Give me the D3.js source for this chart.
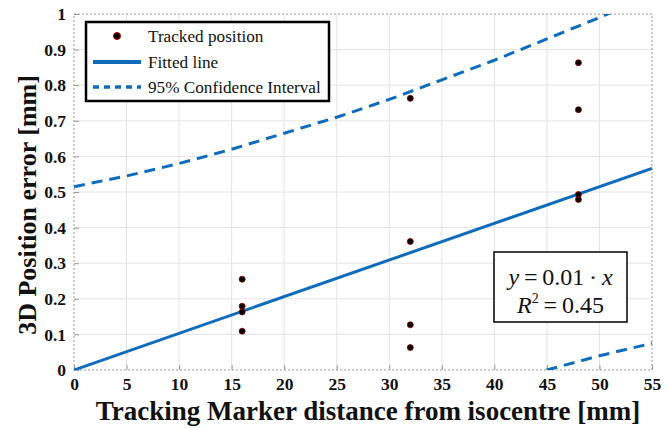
<!DOCTYPE html>
<html>
<head>
<meta charset="utf-8">
<script src="https://d3js.org/d3.v7.min.js"></script>
<style>
  html, body { margin: 0; padding: 0; background: #fff; }
  svg { display: block; }
</style>
</head>
<body>
<svg id="chart" width="669" height="428"></svg>
<script>
// Tracked marker positions: distance from isocentre (mm) and 3D error (mm)
const trackedX = [16, 16, 16, 16, 32, 32, 32, 32, 48, 48, 48, 48];
const trackedY = [0.255, 0.179, 0.163, 0.109, 0.763, 0.361, 0.127, 0.063, 0.863, 0.731, 0.493, 0.479];

// Linear fit through the origin
const fitSlope = 0.0103;
const fitR2 = 0.45;
const fitX = [0, 55];

// 95% confidence interval bounds
const ciUpperX = [0, 5, 10, 15, 20, 25, 30, 35, 40, 45, 50, 55];
const ciUpperY = [0.515, 0.545, 0.58, 0.62, 0.665, 0.71, 0.76, 0.815, 0.87, 0.93, 0.99, 1.055];
const ciLowerX = [40, 45, 50, 55];
const ciLowerY = [-0.04, 0.0, 0.04, 0.075];

const xTicks = [0, 5, 10, 15, 20, 25, 30, 35, 40, 45, 50, 55];
const yTicks = [0, 0.1, 0.2, 0.3, 0.4, 0.5, 0.6, 0.7, 0.8, 0.9, 1];

const blue = "#0f6cbd";
const serif = "'Liberation Serif', 'Times New Roman', serif";

const svg = d3.select("#chart");
const m = { left: 74, right: 17, top: 14, bottom: 58 };
const W = 669, H = 428;
const iw = W - m.left - m.right, ih = H - m.top - m.bottom;

const x = d3.scaleLinear().domain([0, 55]).range([0, iw]);
const y = d3.scaleLinear().domain([0, 1]).range([ih, 0]);

const g = svg.append("g").attr("transform", `translate(${m.left},${m.top})`);

// grid
g.append("g").selectAll("line").data(xTicks.slice(1, -1)).join("line")
  .attr("x1", d => x(d)).attr("x2", d => x(d)).attr("y1", 0).attr("y2", ih)
  .attr("stroke", "#e4e4e4").attr("stroke-width", 1);
g.append("g").selectAll("line").data(yTicks.slice(1, -1)).join("line")
  .attr("y1", d => y(d)).attr("y2", d => y(d)).attr("x1", 0).attr("x2", iw)
  .attr("stroke", "#e4e4e4").attr("stroke-width", 1);

// axes
const xAxis = d3.axisBottom(x).tickValues(xTicks).tickFormat(d3.format("d")).tickSizeInner(-5).tickSizeOuter(0).tickPadding(8);
const yAxis = d3.axisLeft(y).tickValues(yTicks).tickFormat(d => d === 0 || d === 1 ? String(d) : d3.format(".1f")(d)).tickSizeInner(-5).tickSizeOuter(0).tickPadding(8);

const gx = g.append("g").attr("transform", `translate(0,${ih})`).call(xAxis);
const gy = g.append("g").call(yAxis);
[gx, gy].forEach(a => {
  a.select(".domain").remove();
  a.selectAll(".tick line").attr("stroke", "#999").attr("stroke-width", 1);
  a.selectAll(".tick text").attr("fill", "#111").style("font-family", serif)
    .style("font-weight", "bold").style("font-size", "17.5px");
});

// plot frame
g.append("rect").attr("x", 0).attr("y", 0).attr("width", iw).attr("height", ih)
  .attr("fill", "none").attr("stroke", "#9a9a9a").attr("stroke-width", 1)
  .attr("stroke-dasharray", "2,2");

// clip region for the curves
svg.append("defs").append("clipPath").attr("id", "plotclip")
  .append("rect").attr("x", 0).attr("y", 0).attr("width", iw).attr("height", ih);

const curves = g.append("g").attr("clip-path", "url(#plotclip)");
const line = d3.line().x(d => x(d[0])).y(d => y(d[1]));

curves.append("path")
  .datum(ciUpperX.map((v, i) => [v, ciUpperY[i]]))
  .attr("d", line).attr("fill", "none").attr("stroke", blue)
  .attr("stroke-width", 3).attr("stroke-dasharray", "11,7");
curves.append("path")
  .datum(ciLowerX.map((v, i) => [v, ciLowerY[i]]))
  .attr("d", line).attr("fill", "none").attr("stroke", blue)
  .attr("stroke-width", 3).attr("stroke-dasharray", "11,7");
curves.append("path")
  .datum(fitX.map(v => [v, fitSlope * v]))
  .attr("d", line).attr("fill", "none").attr("stroke", blue)
  .attr("stroke-width", 3);

// tracked positions
g.append("g").selectAll("circle").data(trackedX.map((v, i) => [v, trackedY[i]])).join("circle")
  .attr("cx", d => x(d[0])).attr("cy", d => y(d[1])).attr("r", 3)
  .attr("fill", "#000").attr("stroke", "#8b0000").attr("stroke-width", 0.8);

// legend
const lg = svg.append("g").attr("transform", "translate(86,22)");
lg.append("rect").attr("x", 0).attr("y", 0).attr("width", 243).attr("height", 79)
  .attr("fill", "#fff").attr("stroke", "#000").attr("stroke-width", 2.5);
lg.append("circle").attr("cx", 31).attr("cy", 14).attr("r", 3.5)
  .attr("fill", "#000").attr("stroke", "#c00000").attr("stroke-width", 1);
lg.append("line").attr("x1", 7).attr("x2", 55).attr("y1", 40).attr("y2", 40)
  .attr("stroke", blue).attr("stroke-width", 4);
lg.append("line").attr("x1", 7).attr("x2", 55).attr("y1", 65).attr("y2", 65)
  .attr("stroke", blue).attr("stroke-width", 3.5).attr("stroke-dasharray", "6,5");
const legendText = ["Tracked position", "Fitted line", "95% Confidence Interval"];
lg.selectAll("text.lt").data(legendText).join("text").attr("class", "lt")
  .attr("x", 62).attr("y", (d, i) => 20 + i * 25.5)
  .style("font-family", serif).style("font-size", "17.2px").attr("fill", "#111")
  .text(d => d);

// equation box
const eb = svg.append("g").attr("transform", "translate(494,252)");
eb.append("rect").attr("x", 0).attr("y", 0).attr("width", 133).attr("height", 70)
  .attr("fill", "#fff").attr("stroke", "#000").attr("stroke-width", 1.5);
const eq1 = eb.append("text").attr("x", 66.5).attr("y", 33).attr("text-anchor", "middle")
  .style("font-family", serif).style("font-size", "24px").attr("fill", "#111");
eq1.append("tspan").style("font-style", "italic").text("y");
eq1.append("tspan").text("\u2009=\u2009" + d3.format(".2f")(fitSlope) + "\u2009\u00b7\u2009");
eq1.append("tspan").style("font-style", "italic").text("x");
const eq2 = eb.append("text").attr("x", 66.5).attr("y", 61).attr("text-anchor", "middle")
  .style("font-family", serif).style("font-size", "24px").attr("fill", "#111");
eq2.append("tspan").style("font-style", "italic").text("R");
eq2.append("tspan").attr("dy", -10).style("font-size", "14px").text("2");
eq2.append("tspan").attr("dy", 10).text("\u2009=\u2009" + d3.format(".2f")(fitR2));

// axis titles
svg.append("text").attr("x", 368).attr("y", 420).attr("text-anchor", "middle")
  .style("font-family", serif).style("font-weight", "bold").style("font-size", "27px")
  .attr("fill", "#111").text("Tracking Marker distance from isocentre [mm]");
svg.append("text").attr("transform", "translate(36,205) rotate(-90)").attr("text-anchor", "middle")
  .style("font-family", serif).style("font-weight", "bold").style("font-size", "26px")
  .attr("fill", "#111").text("3D Position error [mm]");
</script>
</body>
</html>
